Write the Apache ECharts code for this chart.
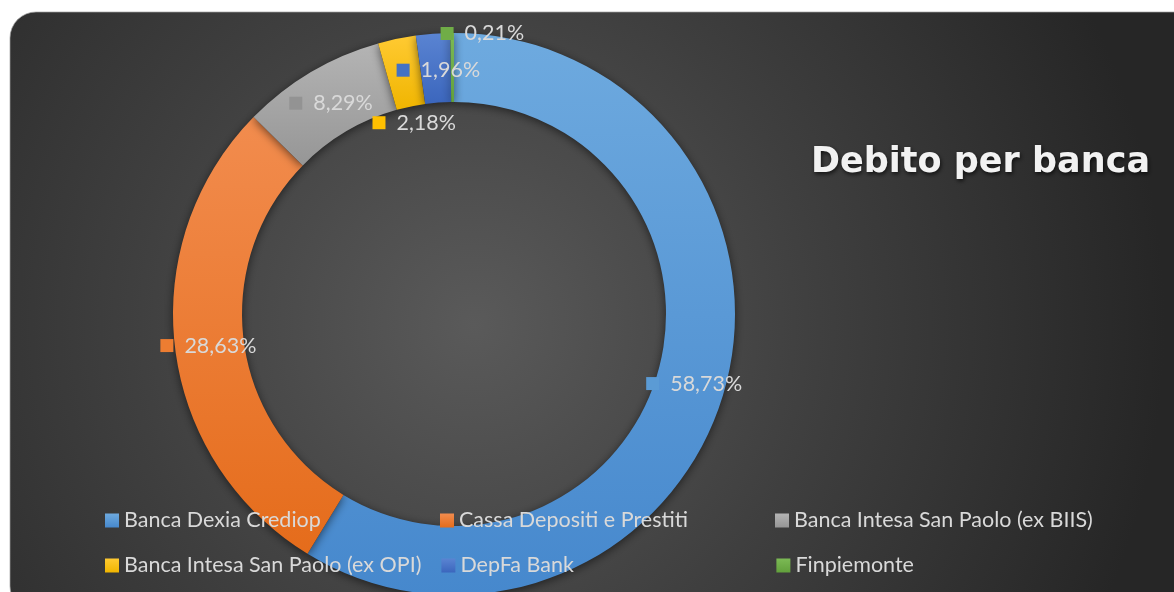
<!DOCTYPE html>
<html><head><meta charset="utf-8">
<script src="https://cdn.jsdelivr.net/npm/echarts@6/dist/echarts.min.js"></script>
<style>html,body{margin:0;padding:0;background:#fff;overflow:hidden}#c{width:1174px;height:592px;}</style>
</head><body><div id="c"></div>
<script>
// ---- data ----
const categories = ['Banca Dexia Crediop', 'Cassa Depositi e Prestiti', 'Banca Intesa San Paolo (ex BIIS)', 'Banca Intesa San Paolo (ex OPI)', 'DepFa Bank', 'Finpiemonte'];
const shares = [58.73, 28.63, 8.29, 2.18, 1.96, 0.21];
const titleText = 'Debito per banca';

// ---- styles ----
const colorTop = ['#6eaadf', '#f28c4e', '#b4b4b4', '#ffca32', '#5a84d2', '#7cba55'];
const colorBottom = ['#4688cd', '#e56c1b', '#969696', '#f0b500', '#3b66bd', '#62a03c'];
const keyColor = ['#5b9bd5', '#ed7d31', '#939393', '#ffc000', '#4472c4', '#70ad47'];
const labelShift = [[0, 2], [2, 1], [4, 4], [11, 53], [3, 5], [30, -31]];
const FONT = 'Lato';

const chart = echarts.init(document.getElementById('c'), null, {renderer: 'canvas'});

function grad(i) {
  return new echarts.graphic.LinearGradient(0, 0, 0, 1, [
    {offset: 0, color: colorTop[i]}, {offset: 1, color: colorBottom[i]}
  ]);
}
const rich = {};
keyColor.forEach((c, i) => { rich['sq' + i] = {backgroundColor: c, width: 13, height: 13}; });
rich.v = {color: '#d9d9d9', fontSize: 21.5, fontFamily: FONT, padding: [0, 0, 0, 11]};

const seriesData = categories.map((name, i) => ({
  name: name, value: shares[i], itemStyle: {color: grad(i)}
}));

chart.setOption({
  animation: false,
  graphic: {elements: [{
    type: 'rect', z: -10, silent: true,
    shape: {x: 10, y: 12, width: 1190, height: 600, r: 26},
    style: {
      fill: new echarts.graphic.RadialGradient(0.39, 0.52, 1.15, [
        {offset: 0, color: '#5a5a5a'}, {offset: 0.5, color: '#3f3f3f'}, {offset: 1, color: '#262626'}
      ]),
      stroke: 'rgba(160,160,160,0.7)', lineWidth: 1
    }
  }]},
  title: {
    text: titleText, left: 806, top: 140,
    textStyle: {color: '#f2f2f2', fontSize: 35, fontWeight: 'bold', fontFamily: 'DejaVu Sans',
      textShadowColor: 'rgba(0,0,0,0.7)', textShadowBlur: 4, textShadowOffsetX: 1, textShadowOffsetY: 2}
  },
  legend: {
    left: 100, top: 503, width: 1010, orient: 'horizontal',
    itemWidth: 14, itemHeight: 14, itemGap: 20, icon: 'rect',
    textStyle: {color: '#d9d9d9', fontSize: 21.5, fontFamily: FONT, width: 296, lineHeight: 25},
    data: categories, selectedMode: false
  },
  series: [{
    type: 'pie', center: [454, 314], radius: [212, 281], startAngle: 90, clockwise: true,
    avoidLabelOverlap: false, emphasis: {disabled: true},
    itemStyle: {shadowBlur: 10, shadowColor: 'rgba(0,0,0,0.55)', shadowOffsetY: 2},
    label: {
      show: true, position: 'inside', rich: rich,
      formatter: p => '{sq' + p.dataIndex + '|}{v|' + p.value.toFixed(2).replace('.', ',') + '%}'
    },
    labelLine: {show: false},
    labelLayout: p => ({dx: labelShift[p.dataIndex][0], dy: labelShift[p.dataIndex][1]}),
    data: seriesData
  }]
});
</script></body></html>
